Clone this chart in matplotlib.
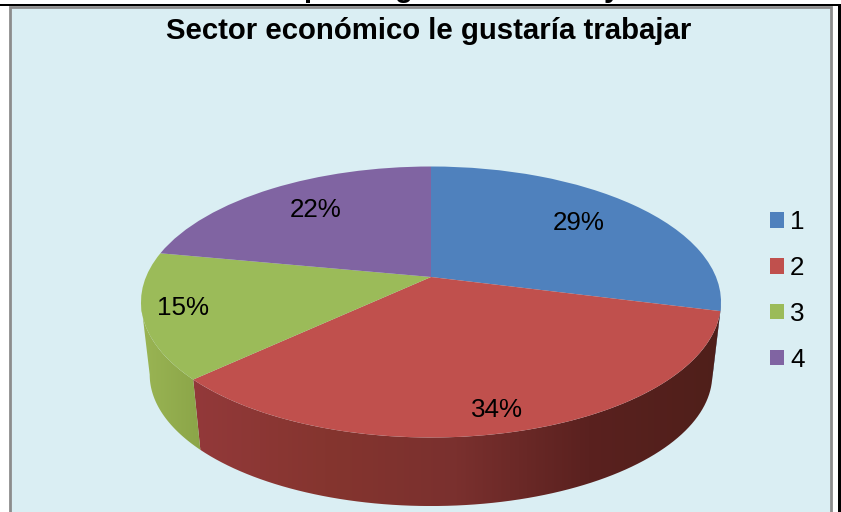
import numpy as np
import matplotlib
matplotlib.use('Agg')
import matplotlib.pyplot as plt
from matplotlib.patches import Rectangle, Polygon
from matplotlib.colors import LinearSegmentedColormap
from matplotlib.transforms import Transform

# Data
categories = ['1', '2', '3', '4']
values = [29, 34, 15, 22]
title = 'Sector económico le gustaría trabajar'

colors = ['#4f81bd', '#c0504d', '#9bbb59', '#8064a2']
# wall shades of each slice, left to right
wall_colors = [['#2f4f78', '#2f4f78'],
               ['#93393a', '#85352f', '#7a302e', '#5a211f', '#4f1f1a'],
               ['#9ab554', '#8ba548'],
               ['#5a4672', '#5a4672']]
label_pos = [(579, 223), (497, 410), (183, 308), (316, 210)]

W, H = 841, 512
CX, CY, RX, RY = 431, 302, 290, 135.5   # top ellipse
APEX = (302 - 277) / 135.5              # pie centre sits above the ellipse centre (perspective)
BOTTOM_SHIFT, BOTTOM_SCALE = 72.6, 0.97 # lower rim of the wall

plt.rcParams['font.family'] = ['Liberation Sans', 'DejaVu Sans']


class Perspective(Transform):
    """Keeps the unit circle a circle but moves its centre to (0, APEX)."""
    input_dims = output_dims = 2

    def transform_non_affine(self, values):
        x, y = values[:, 0], values[:, 1]
        d = 1 + APEX * y
        return np.column_stack([x * np.sqrt(1 - APEX ** 2) / d, (y + APEX) / d])


persp = Perspective()

fig = plt.figure(figsize=(W / 100, H / 100), dpi=100, facecolor='white')

# background axes in pixel coordinates, for the frame
bg = fig.add_axes([0, 0, 1, 1])
bg.set_xlim(0, W)
bg.set_ylim(H, 0)
bg.axis('off')
bg.add_patch(Rectangle((10, 7), 821, 510, facecolor='#daeef3', edgecolor='#8c8c8c', linewidth=2))
bg.add_patch(Rectangle((0, 4), W, 2.4, facecolor='black', edgecolor='none'))
bg.add_patch(Rectangle((838, 4), 3, H, facecolor='black', edgecolor='none'))

# pie axes: 1 unit = RX px across, RY px down
ax = fig.add_axes([0, 0, 1, 1], facecolor='none')
wedges, _ = ax.pie(values, colors=colors, startangle=90, counterclock=False,
                   radius=1, frame=True, wedgeprops={'linewidth': 0})
for w in wedges:
    w.set_transform(persp + ax.transData)
xlim = ((0 - CX) / RX, (W - CX) / RX)
ylim = ((CY - H) / RY, (CY - 0) / RY)

# side wall of the 3D pie, one gradient per slice clipped to its outline
edges = np.cumsum([0] + values) / sum(values) * 360
limit = np.degrees(np.arccos(-APEX))  # where the rim turns out of sight
for i in range(len(values)):
    a0, a1 = max(edges[i], limit), min(edges[i + 1], 360 - limit)
    if a1 <= a0:
        continue
    th = np.radians(np.linspace(a0, a1, 80))
    rim = persp.transform_non_affine(np.column_stack([np.sin(th), np.cos(th)]))
    low = rim * BOTTOM_SCALE - [0, BOTTOM_SHIFT / RY]
    outline = np.vstack([rim, low[::-1]])
    patch = Polygon(outline, closed=True, facecolor='none', edgecolor='none',
                    transform=ax.transData)
    ax.add_patch(patch)
    cmap = LinearSegmentedColormap.from_list('wall', wall_colors[i])
    x0, x1 = outline[:, 0].min(), outline[:, 0].max()
    y0, y1 = outline[:, 1].min(), outline[:, 1].max()
    im = ax.imshow(np.linspace(0, 1, 256).reshape(1, -1), cmap=cmap, aspect='auto',
                   extent=(x0, x1, y0, y1), zorder=0.5)
    im.set_clip_path(patch)

ax.set_aspect('auto')
ax.set_xlim(xlim)
ax.set_ylim(ylim)
ax.axis('off')

# slice labels
for v, (px, py) in zip(values, label_pos):
    ax.text(px, py, f'{v}%', transform=bg.transData, fontsize=18.7,
            ha='center', va='center', color='black')

ax.text(429, 31, title, transform=bg.transData, fontsize=21.2, fontweight='bold',
        ha='center', va='center', color='black')

# what is left of the heading above the chart, cut by the page edge
for ch, px in zip(['p', 'g', 'y'], [312, 404, 612]):
    ax.text(px, -3, ch, transform=bg.transData, fontsize=21, fontweight='bold',
            ha='center', va='baseline', color='black', clip_on=False)

# legend
ax.legend(wedges, categories, loc='center left', bbox_to_anchor=(770 / W, 1 - 291 / H),
          bbox_transform=fig.transFigure, frameon=False, fontsize=18.7,
          handlelength=0.54, handleheight=0.54, handletextpad=0.23,
          labelspacing=0.84, borderpad=0, borderaxespad=0)

fig.savefig('out.png', dpi=100)
